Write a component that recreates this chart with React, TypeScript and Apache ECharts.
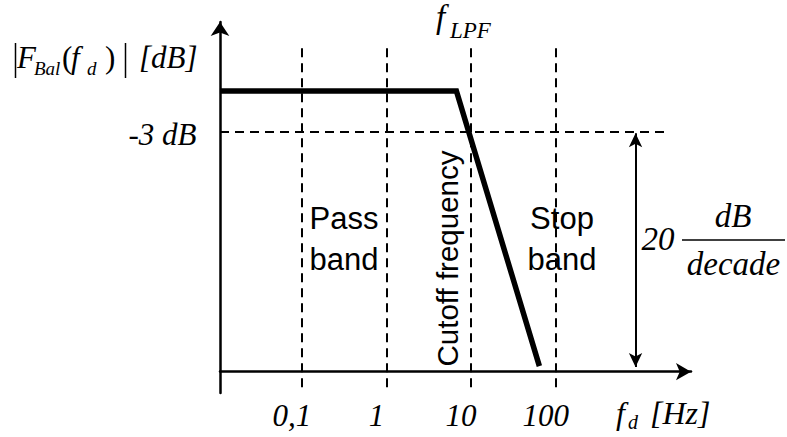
import { useEffect, useRef } from 'react';
import * as echarts from 'echarts';

// Response curve (frequency in Hz, gain in dB)
const freqHz = [0.0108, 6.7, 64];
const gainDb = [0, 0, -20.2];

// Dashed decade grid and its tick labels
const gridFreqHz = [0.1, 1, 10, 100];
const tickLabels = ['0,1', '1', '10', '100'];

// Cutoff level and slope marker
const cutoffDb = -3;
const cutoffLabel = ['-3 dB'];
const slopeMarkerHz = 875;
const slopeArrowDb = [-3.1, -20.26];

// Axis extents (log10 Hz / dB)
const X_MIN = -1.966;
const X_MAX = 3.597;
const Y_TOP = 5.06;
const Y_XAXIS = -20.6;
const Y_BOTTOM = -22.17;
const DASH_TOP = 3.14;
const DASH_BOTTOM = -21.88;
const CUTOFF_LINE_END = 3.284;

const SERIF = '"Liberation Serif", "Times New Roman", serif';
const SANS = '"Liberation Sans", Arial, sans-serif';

const lg = (v: number) => Math.log10(v);

function mathText(text: string, x: number, baseline: number, size: number, align = 'left', italic = true) {
  return {
    type: 'text',
    x,
    y: baseline - 0.3375 * size,
    silent: true,
    style: {
      text,
      fontFamily: SERIF,
      fontStyle: italic ? 'italic' : 'normal',
      fontSize: size,
      fill: '#000',
      align,
      verticalAlign: 'middle',
    },
  };
}

export default function App() {
  const ref = useRef<HTMLDivElement>(null);

  useEffect(() => {
    if (!ref.current) return;
    const chart = echarts.init(ref.current, null, { renderer: 'svg' });

    const dashed = { type: [9, 6] as any, color: '#000', width: 2 };
    const labelFont = {
      fontFamily: SERIF,
      fontStyle: 'italic',
      fontSize: 31,
      color: '#000',
      opacity: 1,
    };

    const option: any = {
      animation: false,
      backgroundColor: '#fff',
      grid: [
        { left: 220, right: 96, top: 22, bottom: 65.3 },
        { left: 220, right: 96, top: 22, bottom: 44 },
      ],
      xAxis: [
        {
          gridIndex: 0,
          type: 'value',
          min: X_MIN,
          max: X_MAX,
          axisLine: {
            show: true,
            onZero: false,
            symbol: ['none', 'arrow'],
            symbolSize: [13, 15],
            lineStyle: { color: '#000', width: 2.5 },
          },
          axisTick: { show: false },
          axisLabel: { show: false },
          splitLine: { show: false },
        },
        { gridIndex: 1, type: 'value', min: X_MIN, max: X_MAX, show: false },
      ],
      yAxis: [
        { gridIndex: 0, type: 'value', min: Y_XAXIS, max: Y_TOP, show: false },
        {
          gridIndex: 1,
          type: 'value',
          min: Y_BOTTOM,
          max: Y_TOP,
          axisLine: {
            show: true,
            onZero: false,
            symbol: ['none', 'arrow'],
            symbolSize: [14, 14],
            lineStyle: { color: '#000', width: 2.5 },
          },
          axisTick: { show: false },
          axisLabel: { show: false },
          splitLine: { show: false },
        },
      ],
      series: [
        {
          name: 'guides',
          type: 'line',
          xAxisIndex: 1,
          yAxisIndex: 1,
          data: [],
          silent: true,
          markLine: {
            silent: true,
            symbol: 'none',
            label: { show: false },
            lineStyle: dashed,
            data: [
              ...gridFreqHz.map((f) => [
                { coord: [lg(f), DASH_TOP] },
                { coord: [lg(f), DASH_BOTTOM] },
              ]),
              [{ coord: [X_MIN, cutoffDb] }, { coord: [CUTOFF_LINE_END, cutoffDb] }],
            ],
          },
        },
        {
          name: 'slope',
          type: 'line',
          xAxisIndex: 1,
          yAxisIndex: 1,
          data: [],
          silent: true,
          markLine: {
            silent: true,
            symbol: ['arrow', 'arrow'],
            symbolSize: [10, 14],
            label: { show: false },
            lineStyle: { type: 'solid', color: '#000', width: 2 },
            data: [[
              { coord: [lg(slopeMarkerHz), slopeArrowDb[0]] },
              { coord: [lg(slopeMarkerHz), slopeArrowDb[1]] },
            ]],
          },
        },
        {
          name: 'response',
          type: 'line',
          xAxisIndex: 1,
          yAxisIndex: 1,
          showSymbol: false,
          clip: false,
          data: freqHz.map((f, i) => [lg(f), gainDb[i]]),
          lineStyle: { color: '#000', width: 5.5, join: 'miter' },
        },
        {
          name: 'ticks',
          type: 'scatter',
          xAxisIndex: 1,
          yAxisIndex: 1,
          clip: false,
          symbolSize: 1,
          itemStyle: { color: 'rgba(0,0,0,0)', opacity: 1 },
          data: gridFreqHz.map((f) => [lg(f), Y_XAXIS]),
          label: {
            show: true,
            position: 'inside',
            offset: [-10, 44],
            formatter: (p: any) => tickLabels[p.dataIndex],
            ...labelFont,
          },
        },
        {
          name: 'cutoff',
          type: 'scatter',
          xAxisIndex: 1,
          yAxisIndex: 1,
          clip: false,
          symbolSize: 1,
          itemStyle: { color: 'rgba(0,0,0,0)', opacity: 1 },
          data: [[X_MIN, cutoffDb]],
          label: {
            show: true,
            position: 'left',
            distance: 23,
            offset: [0, 3],
            formatter: () => cutoffLabel[0],
            ...labelFont,
          },
        },
      ],
      graphic: [
        // |F_Bal(f_d)| [dB]
        { type: 'line', silent: true, shape: { x1: 15.5, y1: 43, x2: 15.5, y2: 78 }, style: { stroke: '#000', lineWidth: 1.5 } },
        { type: 'line', silent: true, shape: { x1: 125.5, y1: 43, x2: 125.5, y2: 78 }, style: { stroke: '#000', lineWidth: 1.5 } },
        mathText('F', 17, 68.3, 31),
        mathText('Bal', 34, 75, 19),
        mathText('(', 62, 68.3, 31, 'left', false),
        mathText('f', 71, 68.3, 31),
        mathText('d', 87, 75, 19),
        mathText(')', 105, 68.3, 31, 'left', false),
        mathText('[dB]', 139, 68.3, 31),
        // f_LPF
        mathText('f', 436, 28, 33),
        mathText('LPF', 450, 38, 23),
        // f_d [Hz]
        mathText('f', 616, 424, 32),
        mathText('d', 628, 429, 20),
        mathText('[Hz]', 650, 424, 32),
        // 20 dB / decade
        mathText('20', 658, 250, 33, 'center'),
        mathText('dB', 733, 226.7, 33, 'center'),
        mathText('decade', 733.5, 275, 33, 'center'),
        { type: 'line', silent: true, shape: { x1: 682, y1: 240, x2: 785, y2: 240 }, style: { stroke: '#000', lineWidth: 1.5 } },
        // Band annotations
        {
          type: 'text', x: 344, y: 239, silent: true,
          style: { text: 'Pass\nband', fontFamily: SANS, fontSize: 31, lineHeight: 40.7, fill: '#000', align: 'center', verticalAlign: 'middle' },
        },
        {
          type: 'text', x: 562, y: 239, silent: true,
          style: { text: 'Stop\nband', fontFamily: SANS, fontSize: 31, lineHeight: 40.7, fill: '#000', align: 'center', verticalAlign: 'middle' },
        },
        {
          type: 'text', x: 447, y: 258.5, rotation: Math.PI / 2, silent: true,
          style: { text: 'Cutoff frequency', fontFamily: SANS, fontSize: 29.5, fill: '#000', align: 'center', verticalAlign: 'middle' },
        },
      ],
    };

    chart.setOption(option);
    return () => chart.dispose();
  }, []);

  return (
    <div
      ref={ref}
      style={{ position: 'fixed', left: 0, top: 0, width: 787, height: 437, background: '#fff' }}
    />
  );
}
